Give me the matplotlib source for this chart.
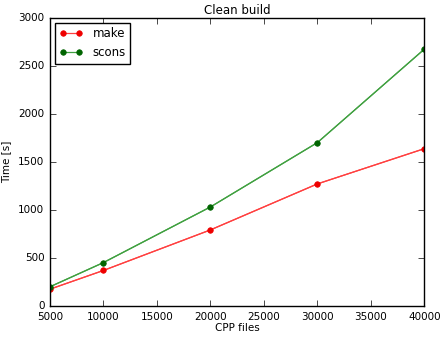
import matplotlib
matplotlib.use("Agg")
import matplotlib.pyplot as plt

plt.style.use("classic")

cpp_files = [5000, 10000, 20000, 30000, 40000]
make_times = [175, 370, 792, 1271, 1638]
scons_times = [200, 452, 1031, 1701, 2674]

fig, ax = plt.subplots(figsize=(4.42, 3.37), dpi=100)
fig.subplots_adjust(left=0.113, right=0.96, top=0.947, bottom=0.092)

# lines a bit lighter than markers, like the downscaled original
ax.plot(cpp_files, make_times, "-", color="#ff4040", lw=0.9)
ax.plot(cpp_files, scons_times, "-", color="#40a040", lw=0.9)
ax.plot(cpp_files, make_times, "o-", color="#ff4040", mfc="#ee0000", mec="#ee0000",
        ms=4, lw=0.9, label="make")
ax.plot(cpp_files, scons_times, "o-", color="#40a040", mfc="#006400", mec="#006400",
        ms=4, lw=0.9, label="scons")

ax.set_xlim(5000, 40000)
ax.set_ylim(0, 3000)
ax.set_title("Clean build", fontsize=8.5, pad=3)
ax.set_xlabel("CPP files", fontsize=7.5, labelpad=1)
ax.set_ylabel("Time [s]", fontsize=7.5)
ax.tick_params(labelsize=7.5)
ax.legend(loc="upper left", fontsize=8.5, numpoints=2, handlelength=2.0,
          borderaxespad=0.4)

fig.savefig("out.png", dpi=100)
